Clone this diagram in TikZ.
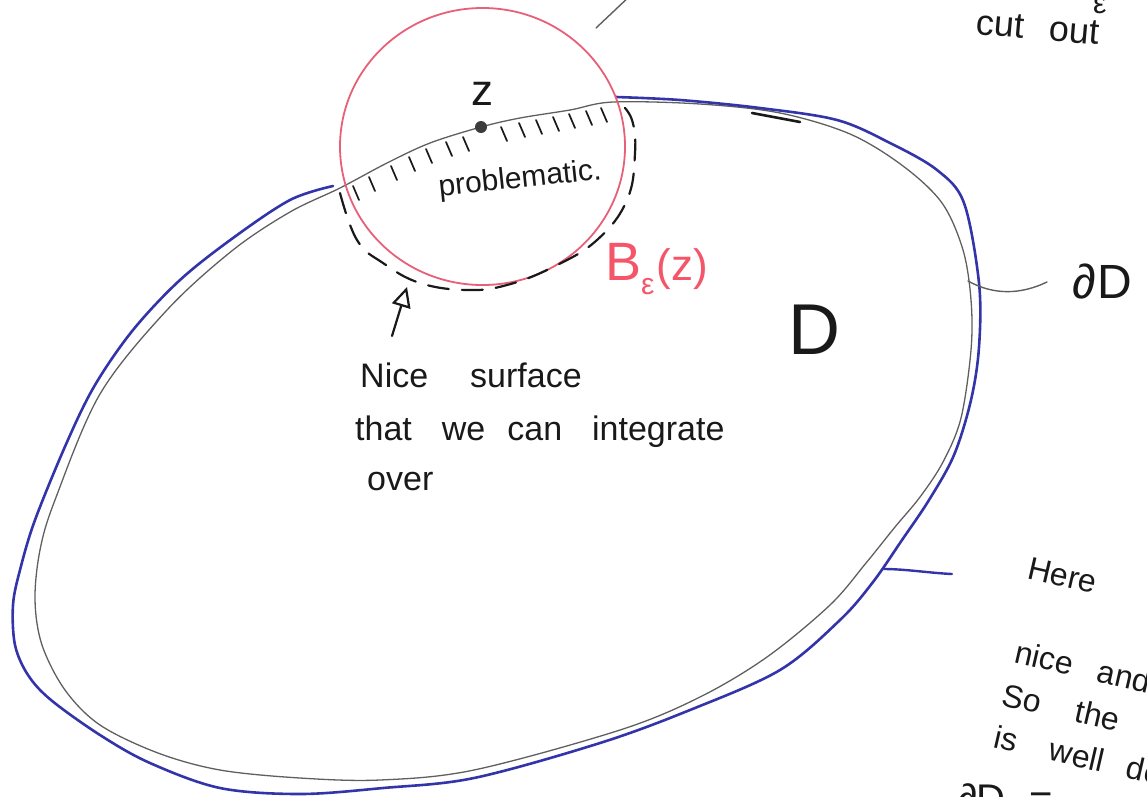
\documentclass[tikz,border=0pt]{standalone}
\usepackage{fontspec}
\setmainfont{Liberation Sans}
\usetikzlibrary{arrows.meta}
\definecolor{penblue}{RGB}{52,52,170}
\definecolor{pinkline}{RGB}{232,95,120}
\definecolor{pinktext}{RGB}{245,85,105}
\definecolor{grayline}{RGB}{95,95,95}
\definecolor{ink}{RGB}{25,25,25}
\begin{document}
\begin{tikzpicture}[x=1pt,y=-1pt,
  graycurve/.style={draw=grayline, line width=1.3pt, line join=round},
  bluecurve/.style={draw=penblue, line width=2.6pt, line cap=round, line join=round},
  hatchmark/.style={draw=ink, line width=1.7pt, line cap=round},
  dashcurve/.style={draw=ink, line width=2.2pt, line cap=round, dash pattern=on 21pt off 13pt},
  pinkcircle/.style={draw=pinkline, line width=1.8pt},
  hand/.style={text=ink, inner sep=0pt, anchor=base west, font=\fontsize{34}{40}\selectfont},
  sidenote/.style={hand, font=\fontsize{32}{38}\selectfont, rotate=-13},
  leader/.style={draw=grayline, line width=1.4pt, line cap=round}]
\useasboundingbox (0,0) rectangle (1147,796);
\clip (0,0) rectangle (1147,796);

% boundary dD (gray, closed)
\draw[graycurve] plot[smooth cycle, tension=0.55] coordinates {
 (340,188) (387,163) (430,143) (481,127) (520,118) (570,110) (613,102)
 (700,104) (780,113) (850,134) (903,166) (942,203) (963,250) (971,300)
 (971,350) (961,418) (943,462) (920,497) (895,527) (866,563) (830,605)
 (767,657) (700,697) (620,730) (474,770) (380,780) (300,778) (220,770)
 (158,753) (100,725) (65,690) (42,645) (35,600) (40,550) (55,500)
 (100,394) (167,310) (233,250) (290,212)};

% blue boundary of the cut domain
\draw[bluecurve] plot[smooth, tension=0.55] coordinates {
 (333,186) (290,200) (233,238) (180,280) (133,330) (95,385) (67,442)
 (35,520) (20,570) (13,605) (15,645) (28,675) (51,700) (100,735)
 (150,763) (220,788) (300,794) (383,788) (474,778) (600,743) (690,710)
 (780,670) (840,620) (873,582) (902,540) (929,500) (954,455) (971,400)
 (979,347) (979,283) (964,203) (937,170) (890,143) (837,120) (760,108)
 (680,100) (616,97)};

% small dark stroke on top
\draw[ink, line width=2.6pt, line cap=round] (752,113) -- (800,122);

% ball B_eps(z)
\draw[pinkcircle] (482.5,146.5) ellipse [x radius=142.5pt, y radius=138.5pt];

% hatch marks below the boundary inside the ball
\foreach \hx/\hy in {352/182, 368/173, 390/162, 408/153, 425/145, 445/138,
  462/133, 500/123, 518/119, 535/116, 552/113, 568/110, 585/107, 600/104}
  \draw[hatchmark] (\hx+1,\hy+4) -- ++(6,14);

% dashed nice surface around the ball
\draw[dashcurve] plot[smooth, tension=0.7] coordinates {
 (340,193) (357,240) (383,263) (420,283) (467,290) (507,285) (553,267)
 (597,240) (627,200) (635,153) (632,120) (620,103)};

% point z
\node[circle, fill=ink!85, inner sep=0pt, minimum size=12pt] (zdot) at (481,127) {};
\node[hand, font=\fontsize{44}{50}\selectfont] (zlabel) at (471,105) {z};

\node[hand, font=\fontsize{30}{36}\selectfont, anchor=center, rotate=6] (probl) at (520,180) {problematic.};

\node[hand, text=pinktext, font=\fontsize{54}{60}\selectfont] (ball) at (605,280)
  {B\raisebox{-14pt}{\fontsize{30}{32}\selectfont ε}\kern2pt\fontsize{44}{50}\selectfont(z)};

\node[hand, font=\fontsize{72}{80}\selectfont] (Dlabel) at (788,354) {D};

% dD label and leader
\node[hand, font=\fontsize{48}{56}\selectfont] (dD) at (1072,298) {∂\kern2ptD};
\coordinate (dDstart) at (968,281);
\coordinate (dDend) at (1047,282);
\draw[leader] (dDstart) .. controls (995,296) and (1022,294) .. (dDend);

% blue leader to the right note
\coordinate (bstart) at (884,569);
\coordinate (bend) at (952,574);
\draw[draw=penblue, line width=2.4pt, line cap=round] (bstart) .. controls (905,569) and (930,573) .. (bend);

% leader at the top
\coordinate (tstart) at (596,28);
\coordinate (tend) at (632,-6);
\draw[leader] (tstart) -- (tend);

% arrow to the nice surface
\coordinate (afoot) at (392,336);
\coordinate (atip) at (407,287);
\draw[ink, line width=2.2pt, line cap=round, -{Triangle[open, length=20pt, width=19pt, line width=2.2pt]}] (afoot) -- (atip);

% text under the arrow
\node[hand] (line1) at (360,387) {Nice\hspace{42pt}surface};
\node[hand] (line2) at (355,440) {that\hspace{30pt}we\hspace{22pt}can\hspace{30pt}integrate};
\node[hand] (line3) at (367,490) {over};

% top right note (cut off)
\node[hand, font=\fontsize{30}{34}\selectfont] (epsTop) at (1093,13) {ε};
\node[hand, font=\fontsize{36}{40}\selectfont, rotate=-5] (cutout) at (975,34) {cut\hspace{26pt}out};

% right bottom note (cut off)
\node[sidenote] (here) at (1026,578) {Here};
\node[sidenote] (nicea) at (1013,662) {nice\hspace{26pt}and};
\node[sidenote] (sothe) at (1000,705) {So\hspace{36pt}the};
\node[sidenote] (iswell) at (992,747) {is\hspace{34pt}well\hspace{24pt}defined};
\node[hand, font=\fontsize{40}{46}\selectfont] (dDeps) at (957,812) {∂D\textsubscript{ε} =};
\end{tikzpicture}
\end{document}
